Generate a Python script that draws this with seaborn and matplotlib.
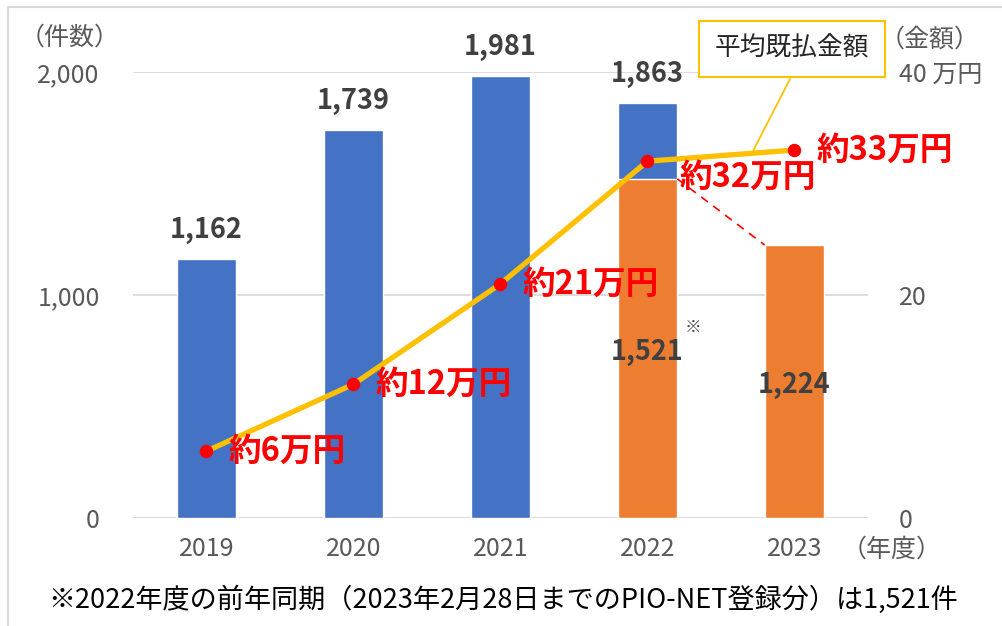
import matplotlib
matplotlib.use("Agg")
import matplotlib.pyplot as plt
import seaborn as sns
import numpy as np
import pandas as pd
from matplotlib.lines import Line2D

sns.set_theme(style="white")
plt.rcParams['font.family'] = ['Noto Sans CJK JP', 'DejaVu Sans']

years = ["2019", "2020", "2021", "2022", "2023"]
total_counts = [1162, 1739, 1981, 1863, np.nan]
same_period_counts = [np.nan, np.nan, np.nan, 1521, 1224]
avg_amount = [6, 12, 21, 32, 33]  # 万円
amount_labels = ["約6万円", "約12万円", "約21万円", "約32万円", "約33万円"]
left_ticks = [0, 1000, 2000]
left_ticklabels = ["0", "1,000", "2,000"]
right_ticks = [0, 20, 40]
right_ticklabels = ["0", "20", "40 万円"]

BLUE = "#4472C4"
ORANGE = "#ED7D31"
GOLD = "#FFC000"
RED = "#FF0000"
GRAY = "#595959"
DARK = "#404040"

fig = plt.figure(figsize=(10.03, 6.26), dpi=100)
ax = fig.add_axes([0.1326, 0.1725, 0.7328, 0.7125])

df_blue = pd.DataFrame({"year": years, "count": total_counts})
df_orange = pd.DataFrame({"year": years, "count": same_period_counts})
sns.barplot(data=df_blue, x="year", y="count", color=BLUE, width=0.405,
            saturation=1, ax=ax, order=years)
sns.barplot(data=df_orange, x="year", y="count", color=ORANGE, width=0.405,
            saturation=1, ax=ax, order=years)

ax.set_xlim(-0.5, 4.5)
ax.set_ylim(0, 2000)
ax.set_yticks(left_ticks)
ax.set_yticklabels(left_ticklabels)
ax.yaxis.grid(True, color="#D9D9D9", linewidth=1.3)
ax.set_axisbelow(True)
for s in ax.spines.values():
    s.set_visible(False)
ax.set_xlabel("")
ax.set_ylabel("")
ax.tick_params(axis="both", length=0, labelsize=18, colors=GRAY)
ax.tick_params(axis="y", pad=24)
ax.tick_params(axis="x", pad=13)

# bar value labels
for i, v in enumerate(total_counts):
    if not np.isnan(v):
        ax.text(i, v + 130, f"{int(v):,}", ha="center", va="center",
                fontsize=19.5, fontweight="bold", color=DARK)
ax.text(3, 1521 - 777, f"{1521:,}", ha="center", va="center",
        fontsize=19.5, fontweight="bold", color=DARK)
ax.text(3.31, 1521 - 665, "※", ha="center", va="center", fontsize=12, color=DARK)
ax.text(4, 1224 - 628, f"{1224:,}", ha="center", va="center",
        fontsize=19.5, fontweight="bold", color=DARK)

# dashed connector between same-period bars
ax.plot([3 + 0.2025, 4 - 0.2025], [same_period_counts[3], same_period_counts[4]],
        color=RED, linestyle=(0, (5, 4)), linewidth=1.2, zorder=3)

# right axis with line
ax2 = ax.twinx()
ax2.set_ylim(0, 40)
xs = list(range(len(years)))
sns.lineplot(x=xs, y=avg_amount, ax=ax2, color=GOLD, linewidth=3.8, zorder=5)
ax2.scatter(xs, avg_amount, s=75, color=RED, zorder=6)
ax2.set_yticks(right_ticks)
ax2.set_yticklabels(right_ticklabels)
ax2.tick_params(axis="y", length=0, labelsize=18, colors=GRAY, pad=22)
for s in ax2.spines.values():
    s.set_visible(False)
ax2.grid(False)
ax.set_zorder(1)
ax2.set_zorder(2)
ax2.patch.set_visible(False)

# amount labels
offsets = [(0.15, 0), (0.15, 0), (0.15, 0), (0.22, -1.4), (0.15, 0)]
for i, (lab, v) in enumerate(zip(amount_labels, avg_amount)):
    dx, dy = offsets[i]
    ax2.text(i + dx, v + dy, lab, ha="left", va="center", fontsize=23.5,
             fontweight="bold", color=RED, zorder=7)

# legend-like callout box
fig.text(792 / 1003, 1 - 49 / 626, "平均既払金額", ha="center", va="center", fontsize=18.5,
         color="#262626",
         bbox=dict(boxstyle="square,pad=0.6", facecolor="white", edgecolor=GOLD, linewidth=1.5))
fig.add_artist(Line2D([790 / 1003, 752 / 1003], [1 - 79 / 626, 1 - 153 / 626],
                      color=GOLD, linewidth=1.3, transform=fig.transFigure))

# axis unit labels
fig.text(70 / 1003, 1 - 38 / 626, "（件数）", ha="center", va="center", fontsize=18, color=GRAY)
fig.text(930 / 1003, 1 - 40 / 626, "（金額）", ha="center", va="center", fontsize=18, color=GRAY)
fig.text(892 / 1003, 1 - 550 / 626, "（年度）", ha="center", va="center", fontsize=18, color=GRAY)

# footnote
fig.text(503 / 1003, 1 - 600 / 626,
         "※2022年度の前年同期（2023年2月28日までのPIO-NET登録分）は1,521件",
         ha="center", va="center", fontsize=19.5, color="#000000")

# top & left border
fig.add_artist(Line2D([8 / 1003, 1], [1 - 7 / 626, 1 - 7 / 626], color="#D9D9D9",
                      linewidth=1.5, transform=fig.transFigure))
fig.add_artist(Line2D([8 / 1003, 8 / 1003], [0, 1 - 7 / 626], color="#D9D9D9",
                      linewidth=1.5, transform=fig.transFigure))

fig.savefig("out.png", dpi=100)
